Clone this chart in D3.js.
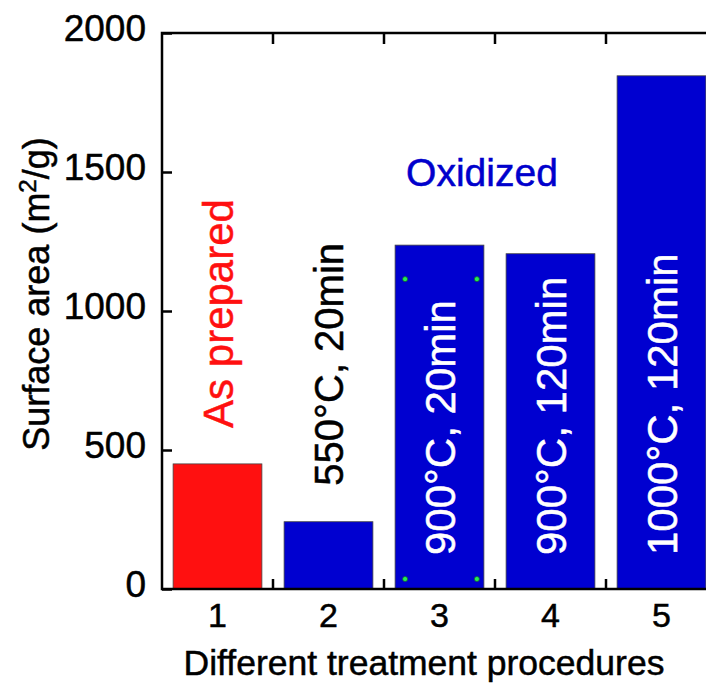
<!DOCTYPE html>
<html>
<head>
<meta charset="utf-8">
<script src="https://cdn.jsdelivr.net/npm/d3@7"></script>
<style>
  body { margin: 0; background: #fff; }
  text { font-family: "Liberation Sans", Arial, Helvetica, sans-serif; }
</style>
</head>
<body>
<svg id="chart" width="706" height="683"></svg>
<script>
// values
const procedures = [1, 2, 3, 4, 5];
const surfaceArea = [450, 242, 1237, 1206, 1846];
const treatment = ["as prepared", "oxidized", "oxidized", "oxidized", "oxidized"];
const barLabels = ["As prepared", "550°C, 20min", "900°C, 20min", "900°C, 120min", "1000°C, 120min"];
const yTicks = [0, 500, 1000, 1500, 2000];

// plot frame (the right side runs past the page, as in the source)
var plotLeft = 162, plotRight = 717, plotTop = 33, plotBottom = 589;

var x = d3.scaleBand()
    .domain(procedures)
    .range([plotLeft, plotRight])
    .paddingInner(0.2)
    .paddingOuter(0.1);

var y = d3.scaleLinear()
    .domain([0, 2000])
    .range([plotBottom, plotTop]);

var color = d3.scaleOrdinal()
    .domain(["as prepared", "oxidized"])
    .range(["#ff1010", "#0000d0"]);

const svg = d3.select('#chart');
svg.append("rect").attr("width", 706).attr("height", 683).attr("fill", "#fff");

var rows = procedures.map((p, i) => ({p: p, v: surfaceArea[i], t: treatment[i], label: barLabels[i]}));

// bars
svg.selectAll("rect.bar")
    .data(rows)
    .enter()
    .append("rect")
    .attr("class", "bar")
    .attr("x", d => x(d.p))
    .attr("y", d => y(d.v))
    .attr("width", x.bandwidth())
    .attr("height", d => y(0) - y(d.v))
    .attr("fill", d => color(d.t))
    .attr("stroke", "#444")
    .attr("stroke-width", 0.8);

// little green handles on bar 3 (as in the source picture)
var b3 = rows[2];
var handles = [
    [x(b3.p) + 10, y(b3.v) + 34], [x(b3.p) + x.bandwidth() - 7, y(b3.v) + 34],
    [x(b3.p) + 10, y(0) - 10], [x(b3.p) + x.bandwidth() - 7, y(0) - 10]
];
svg.selectAll("circle.handle")
    .data(handles)
    .enter()
    .append("circle")
    .attr("cx", d => d[0])
    .attr("cy", d => d[1])
    .attr("r", 2.5)
    .attr("fill", "#22ee55")
    .attr("stroke", "#1a5a2a")
    .attr("stroke-width", 0.7);

// bar labels, rotated
function labelColor(d) {
    if (d.v > 1000) return "#fff";
    return d.t == "as prepared" ? "#ff1010" : "#000";
}
svg.selectAll("text.barlabel")
    .data(rows)
    .enter()
    .append("text")
    .attr("class", "barlabel")
    .attr("transform", d => {
        let inside = d.v > 1000;
        let cx = x(d.p) + x.bandwidth() / 2;
        let cy = inside ? y(0) - 34 : y(d.v) - 36;
        return "translate(" + cx + "," + cy + ") rotate(-90)";
    })
    .attr("dy", "0.36em")
    .attr("text-anchor", "start")
    .style("font-size", d => (d.v > 1000 || d.t == "as prepared") ? "42px" : "40px")
    .attr("fill", labelColor)
    .attr("stroke", labelColor)
    .attr("stroke-width", 0.5)
    .text(d => d.label);

svg.append("text")
    .attr("x", x(3) + 11)
    .attr("y", y(1450))
    .attr("fill", "#0000cc")
    .attr("stroke", "#0000cc")
    .attr("stroke-width", 0.5)
    .style("font-size", "39px")
    .text("Oxidized");

// frame
svg.append("rect")
    .attr("x", plotLeft).attr("y", plotTop)
    .attr("width", plotRight - plotLeft).attr("height", plotBottom - plotTop)
    .attr("fill", "none")
    .attr("stroke", "#000")
    .attr("stroke-width", 2.5);

// y axis, inward ticks
const yAxis = d3.axisLeft(y).tickValues(yTicks).tickFormat(d3.format("d")).tickSize(-10).tickPadding(16);
var gy = svg.append('g')
    .attr("transform", "translate(" + plotLeft + ",0)")
    .call(yAxis);
gy.select(".domain").remove();
gy.selectAll("line").attr("stroke", "#000").attr("stroke-width", 2.5);
gy.selectAll("text")
    .attr("dy", "0.2em")
    .style("font-size", "37px")
    .attr("fill", "#000")
    .attr("stroke", "#000")
    .attr("stroke-width", 0.5);

// x axis: labels at band centres, ticks between bands
const xAxis = d3.axisBottom(x).tickSize(0).tickPadding(14);
var gx = svg.append('g')
    .attr("transform", "translate(0," + plotBottom + ")")
    .call(xAxis);
gx.select(".domain").remove();
gx.selectAll("text")
    .attr("dy", "0.71em")
    .style("font-size", "34px")
    .attr("fill", "#000")
    .attr("stroke", "#000")
    .attr("stroke-width", 0.5);

var bounds = procedures.slice(1).map(p => x(p) - x.step() * x.paddingInner() / 2);
svg.selectAll("line.xtick")
    .data(bounds)
    .enter()
    .append("line")
    .attr("x1", d => d).attr("x2", d => d)
    .attr("y1", plotBottom).attr("y2", plotBottom - 10)
    .attr("stroke", "#000").attr("stroke-width", 2.5);
svg.selectAll("line.xtick-top")
    .data(bounds)
    .enter()
    .append("line")
    .attr("x1", d => d).attr("x2", d => d)
    .attr("y1", plotTop).attr("y2", plotTop + 11)
    .attr("stroke", "#000").attr("stroke-width", 2.5);

// axis titles
svg.append("text")
    .attr("x", 424)
    .attr("y", 675)
    .attr("text-anchor", "middle")
    .attr("stroke", "#000")
    .attr("stroke-width", 0.5)
    .style("font-size", "35.5px")
    .text("Different treatment procedures");

var yt = svg.append("text")
    .attr("transform", "translate(49,294) rotate(-90)")
    .attr("text-anchor", "middle")
    .attr("stroke", "#000")
    .attr("stroke-width", 0.5)
    .style("font-size", "36px");
yt.append("tspan").text("Surface area (m");
yt.append("tspan").attr("dy", "-13").style("font-size", "24px").text("2");
yt.append("tspan").attr("dy", "13").text("/g)");
</script>
</body>
</html>
